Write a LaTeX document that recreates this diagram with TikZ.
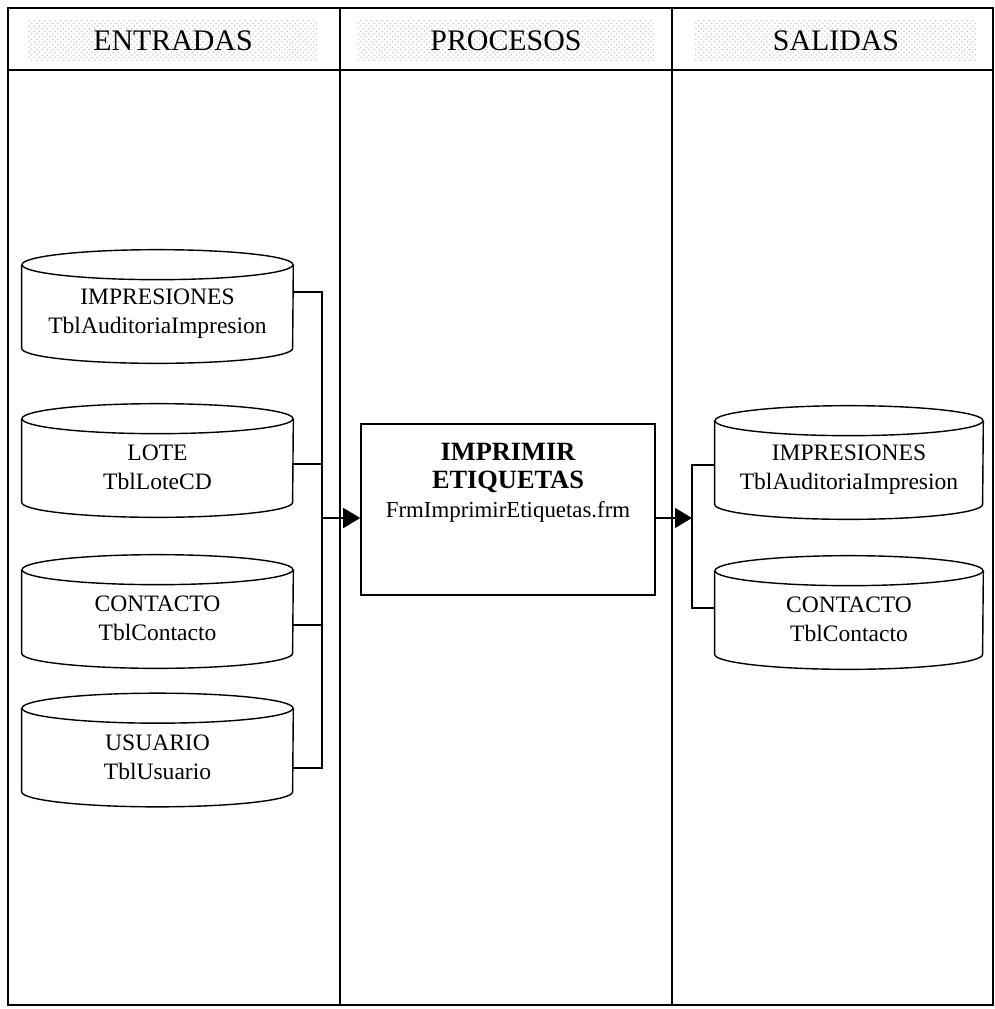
\documentclass[tikz,border=0pt]{standalone}
\usepackage{fontspec}
\setmainfont{Liberation Serif}
\usetikzlibrary{shapes.geometric,arrows.meta,positioning,calc,patterns}

\begin{document}
\begin{tikzpicture}[
    x=0.02cm, y=-0.02cm,
    frame/.style={line width=1.1pt},
    head/.style={pattern=crosshatch dots, pattern color=gray!40, minimum height=0.8cm, font=\fontsize{17}{20}\selectfont},
    dbtable/.style={rectangle, minimum width=5.42cm, minimum height=2.26cm, align=center,
        font=\fontsize{13.4}{16.5}\selectfont,
        append after command={\pgfextra{\let\dbnode\tikzlastnode
            \draw[line width=0.8pt] ([yshift=-0.16cm]\dbnode.north) ellipse [x radius=#1/2, y radius=0.3cm];
            \draw[line width=0.8pt] ([yshift=-0.16cm]\dbnode.north west) -- ([yshift=0.44cm]\dbnode.south west)
                arc[start angle=180, end angle=360, x radius=#1/2, y radius=0.3cm]
                -- ([yshift=-0.16cm]\dbnode.north east);}}},
    dbtable/.default=5.42cm,
    procbox/.style={rectangle, draw, line width=0.9pt, minimum width=5.88cm, minimum height=3.42cm},
    link/.style={line width=0.8pt},
    arr/.style={link, -{Triangle[length=0.34cm, width=0.4cm]}}
]
    \useasboundingbox (0,0) rectangle (995,1009);

    % Frame and columns
    \draw[frame] (8,8) rectangle (993,1005);
    \draw[frame] (8,70) -- (993,70);
    \draw[frame] (340,8) -- (340,1005);
    \draw[frame] (672,8) -- (672,1005);

    % Headers
    \node[head, minimum width=5.8cm] (hEnt) at (173,40.5) {ENTRADAS};
    \node[head, minimum width=5.92cm] (hPro) at (506,40.5) {PROCESOS};
    \node[head, minimum width=5.64cm] (hSal) at (836,40.5) {SALIDAS};

    % Entradas
    \node[dbtable] (impE) at (157.5,313.5) {IMPRESIONES\\TblAuditoriaImpresion};
    \node[dbtable] (lote) at (157.5,467.5) {LOTE\\TblLoteCD};
    \node[dbtable] (contE) at (157.5,618.5) {CONTACTO\\TblContacto};
    \node[dbtable] (usu) at (157.5,757) {USUARIO\\TblUsuario};

    % Proceso
    \node[procbox] (proc) at (508,509.5) {};
    \node[anchor=north, align=center, inner sep=0pt, font=\fontsize{13}{16}\selectfont] (procTxt)
        at ([yshift=-0.4cm]proc.north)
        {{\fontsize{15}{16}\selectfont\bfseries IMPRIMIR}\\{\fontsize{15}{16}\selectfont\bfseries ETIQUETAS}\\
         FrmImprimirEtiquetas.frm};

    % Salidas
    \node[dbtable=5.36cm, minimum width=5.36cm] (impS) at (849,469.5) {IMPRESIONES\\TblAuditoriaImpresion};
    \node[dbtable=5.36cm, minimum width=5.36cm] (contS) at (849,619.5) {CONTACTO\\TblContacto};

    % Connectors
    \coordinate (busL) at (322,518);
    \coordinate (busR) at (692,518);
    \draw[link] ([yshift=0.43cm]impE.east) -| (busL);
    \draw[link] ([yshift=0.07cm]lote.east) -| (busL);
    \draw[link] ([yshift=-0.13cm]contE.east) -| (busL);
    \draw[link] ([yshift=-0.22cm]usu.east) -| (busL);
    \draw[arr] (busL) -- (proc.west |- busL);
    \draw[arr] (proc.east |- busR) -- (busR);
    \draw[link] ([yshift=0.09cm]impS.west) -| (busR);
    \draw[link] ([yshift=0.23cm]contS.west) -| (busR);
\end{tikzpicture}
\end{document}
